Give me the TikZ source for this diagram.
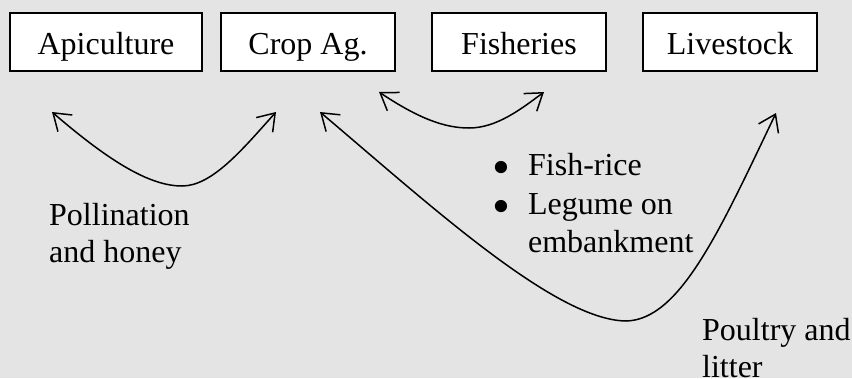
\documentclass[tikz,border=0pt]{standalone}
\usepackage{fontspec}
\setmainfont{LiberationSerif}[Extension=.ttf, UprightFont=*-Regular, BoldFont=*-Bold, ItalicFont=*-Italic]
\usetikzlibrary{arrows.meta}
\definecolor{bggray}{HTML}{E4E4E4}
\tikzset{
  sector/.style={draw=black, line width=1.6pt, fill=white, inner sep=0pt,
    minimum height=58pt, text height=24pt, text depth=0pt,
    font=\fontsize{32}{38}\selectfont},
  link/.style={line width=1.5pt, {Straight Barb[length=16pt,width=22pt,line width=1.5pt]}-{Straight Barb[length=16pt,width=22pt,line width=1.5pt]}},
  caption/.style={inner sep=0pt, anchor=base west, font=\fontsize{32}{37.5}\selectfont}
}
\newcommand{\bigdot}{\smash{\raisebox{-9pt}{\scalebox{1.6}{\textbullet}}}}
\begin{document}
\begin{tikzpicture}[x=1pt,y=-1pt]
  % canvas
  \fill[bggray] (0,0) rectangle (852,378);
  \useasboundingbox (0,0) rectangle (852,378);

  % enterprise boxes
  \node[sector, minimum width=192pt] (api)  at (106,42) {Apiculture};
  \node[sector, minimum width=174pt] (crop) at (308,42) {Crop Ag.};
  \node[sector, minimum width=174pt] (fish) at (519,42) {Fisheries};
  \node[sector, minimum width=174pt] (live) at (730,42) {Livestock};

  % arrow end points below the boxes
  \coordinate (apiEnd)   at (52,112);
  \coordinate (cropL)    at (276,112);
  \coordinate (cropR)    at (379,92);
  \coordinate (fishEnd)  at (544,92);
  \coordinate (cropM)    at (320,112);
  \coordinate (liveEnd)  at (776,113);

  % Apiculture <-> Crop Ag.
  \draw[link] (apiEnd) .. controls (110,162) and (150,186) .. (182,186)
                       .. controls (212,186) and (242,150) .. (cropL);
  % Crop Ag. <-> Fisheries
  \draw[link] (cropR) .. controls (418,118) and (444,128) .. (469,128)
                      .. controls (496,128) and (520,110) .. (fishEnd);
  % Crop Ag. <-> Livestock
  \draw[link] (cropM) .. controls (430,205) and (555,320) .. (626,321)
                      .. controls (680,320) and (720,230) .. (liveEnd);

  % labels
  \node[caption] (poll) at (49,225)
    {\begin{tabular}[t]{@{}l@{}}Pollination\\and honey\end{tabular}};
  \node[caption, font=\fontsize{32}{38.5}\selectfont] (fr) at (492,175.5)
    {\begin{tabular}[t]{@{}l@{\hspace{18pt}}l@{}}\bigdot & Fish-rice\\
      \bigdot & Legume on\\ & embankment\end{tabular}};
  \node[caption] (poul) at (702,340)
    {\begin{tabular}[t]{@{}l@{}}Poultry and\\litter\end{tabular}};
\end{tikzpicture}
\end{document}
